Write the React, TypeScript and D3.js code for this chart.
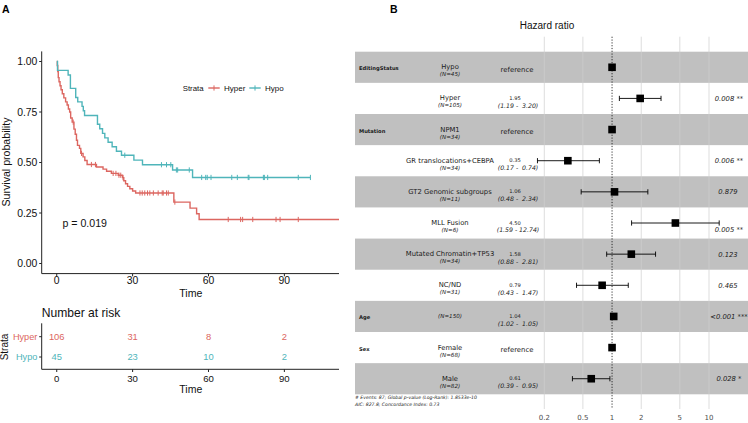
import React from "react";
import * as d3 from "d3";

const W = 748;
const H = 423;

// ---------- Kaplan-Meier data ----------
const hyperEventTimes = [0.2, 0.4, 0.6, 0.9, 1.3, 1.7, 2.2, 2.8, 3.5, 4.1, 4.6, 5.1, 5.5, 6.1, 6.8, 7.3, 7.8, 8.2, 9.0, 9.5, 10.4, 11.1, 12.0, 15.7, 18.3, 19.7, 21.6, 24.3, 26.0, 26.5, 27.2, 28.0, 28.9, 30.0, 31.2, 46.3, 52.7, 55.3, 56.3];
const hyperSurv = [0.98, 0.95, 0.92, 0.9, 0.88, 0.86, 0.84, 0.82, 0.8, 0.785, 0.765, 0.75, 0.72, 0.7, 0.665, 0.64, 0.61, 0.585, 0.57, 0.545, 0.528, 0.51, 0.49, 0.478, 0.467, 0.457, 0.446, 0.437, 0.425, 0.41, 0.395, 0.382, 0.37, 0.359, 0.349, 0.304, 0.274, 0.246, 0.218];
const hyperCensorTimes = [6.5, 9.8, 13.7, 15.3, 22.3, 23.4, 24.6, 25.3, 26.2, 32.9, 33.8, 34.8, 35.9, 36.8, 38.2, 40.1, 41.7, 42.1, 43.4, 44.1, 46.7, 67.8, 72.7, 73.5, 77.5, 86.7, 88.3, 95.5];
const hyperLastTime = 111.6;

const hypoEventTimes = [0.3, 4.5, 5.4, 7.5, 8.3, 10.0, 10.5, 11.0, 16.1, 17.0, 18.1, 19.0, 20.3, 21.9, 23.6, 25.6, 30.5, 33.9, 45.8, 53.7];
const hypoSurv = [0.956, 0.933, 0.867, 0.822, 0.8, 0.778, 0.756, 0.733, 0.689, 0.667, 0.644, 0.622, 0.6, 0.578, 0.556, 0.536, 0.512, 0.489, 0.463, 0.426];
const hypoCensorTimes = [26.9, 41.4, 43.4, 45.1, 47.3, 47.8, 52.4, 57.3, 58.9, 59.5, 61.0, 69.2, 71.4, 75.7, 76.0, 81.7, 82.1, 83.4, 95.5, 100.3];
const hypoLastTime = 100.3;

const strataNames = ["Hyper", "Hypo"];
const strataColors = ["#DC6660", "#4FB5BA"];
const timeTicks = [0, 30, 60, 90];
const survTicks = [0, 0.25, 0.5, 0.75, 1];
const riskHyper = [106, 31, 8, 2];
const riskHypo = [45, 23, 10, 2];
const pValueLabel = "p = 0.019";

// ---------- Forest plot data ----------
const fpVariables = ["EditingStatus", "", "Mutation", "", "", "", "", "", "Age", "Sex", ""];
const fpLevels = ["Hypo", "Hyper", "NPM1", "GR translocations+CEBPA", "GT2 Genomic subgroups", "MLL Fusion", "Mutated Chromatin+TP53", "NC/ND", "", "Female", "Male"];
const fpN = [45, 105, 34, 34, 11, 6, 34, 31, 150, 68, 82];
const fpHR = [1, 1.95, 1, 0.35, 1.06, 4.5, 1.58, 0.79, 1.04, 1, 0.61];
const fpLower = [null, 1.19, null, 0.17, 0.48, 1.59, 0.88, 0.43, 1.02, null, 0.39];
const fpUpper = [null, 3.2, null, 0.74, 2.34, 12.74, 2.81, 1.47, 1.05, null, 0.95];
const fpP = ["", "0.008 **", "", "0.006 **", "0.879 ", "0.005 **", "0.123 ", "0.465 ", "<0.001 ***", "", "0.028 *"];
const hrTicks = [0.2, 0.5, 1, 2, 5, 10];
const footerLines = ["# Events: 87; Global p-value (Log-Rank): 1.8533e-10", "AIC: 827.8; Concordance Index: 0.73"];

const KM_FONT = "'Liberation Sans', Arial, Helvetica, sans-serif";
const FP_FONT = "'DejaVu Sans', Verdana, sans-serif";

function survAt(times: number[], surv: number[], t: number) {
  let s = 1;
  for (let i = 0; i < times.length; i++) if (times[i] <= t) s = surv[i];
  return s;
}

export default function App() {
  // KM scales
  const x = d3.scaleLinear().domain([-5.95, 111.6]).range([41.7, 339]);
  const y = d3.scaleLinear().domain([-0.05, 1.05]).range([273.6, 51.4]);
  const stepLine = d3
    .line<[number, number]>()
    .x((d) => x(d[0]))
    .y((d) => y(d[1]))
    .curve(d3.curveStepAfter);

  const series = [
    { name: strataNames[0], color: strataColors[0], times: hyperEventTimes, surv: hyperSurv, cens: hyperCensorTimes, last: hyperLastTime },
    { name: strataNames[1], color: strataColors[1], times: hypoEventTimes, surv: hypoSurv, cens: hypoCensorTimes, last: hypoLastTime },
  ];

  const riskY = d3.scalePoint<string>().domain(strataNames).range([336.7, 357]);
  const riskRows = [riskHyper, riskHypo];

  // Forest scales
  const hx = d3.scaleLog().domain([0.2, 10]).range([544.3, 709]);
  const rows = d3.scaleBand<number>().domain(d3.range(fpLevels.length)).range([51.7, 394.3]);
  const bw = rows.bandwidth();
  const fmt = (v: number) => v.toFixed(2);
  const upWidth = d3.max(fpUpper.filter((v) => v != null).map((v) => fmt(v as number).length)) as number;

  return (
    <svg width={W} height={H} style={{ position: "absolute", left: 0, top: 0, background: "#fff" }}>
      {/* Panel labels */}
      <text x={2} y={12.5} fontFamily={KM_FONT} fontWeight="bold" fontSize={10.5}>A</text>
      <text x={390} y={12.5} fontFamily={KM_FONT} fontWeight="bold" fontSize={10.5}>B</text>

      {/* ---------------- KM plot ---------------- */}
      <g fontFamily={KM_FONT}>
        <line x1={41.7} x2={41.7} y1={y(1.05)} y2={y(-0.05)} stroke="#222" strokeWidth={1} />
        <line x1={41.7} x2={339} y1={273.6} y2={273.6} stroke="#222" strokeWidth={1} />
        {survTicks.map((t) => (
          <g key={"ys" + t}>
            <line x1={39.2} x2={41.7} y1={y(t)} y2={y(t)} stroke="#222" />
            <text x={37.4} y={y(t) + 3.8} textAnchor="end" fontSize={10.4} fill="#111">{t.toFixed(2)}</text>
          </g>
        ))}
        {timeTicks.map((t) => (
          <g key={"xt" + t}>
            <line x1={x(t)} x2={x(t)} y1={273.6} y2={276.3} stroke="#222" />
            <text x={x(t)} y={283.8} textAnchor="middle" fontSize={10.4} fill="#111">{t}</text>
          </g>
        ))}
        <text x={x(53)} y={296.5} textAnchor="middle" fontSize={10.6} fill="#111">Time</text>
        <text transform="translate(9.5,162) rotate(-90)" textAnchor="middle" fontSize={10.6} fill="#111">Survival probability</text>

        {series.map((s) => {
          const pts: [number, number][] = [[0, 1]];
          s.times.forEach((t, i) => pts.push([t, s.surv[i]]));
          pts.push([s.last, s.surv[s.surv.length - 1]]);
          return (
            <g key={s.name}>
              <path d={stepLine(pts) as string} fill="none" stroke={s.color} strokeWidth={1.4} />
              {s.cens.map((c, i) => {
                const cy = y(survAt(s.times, s.surv, c));
                return <line key={i} x1={x(c)} x2={x(c)} y1={cy - 2.6} y2={cy + 2.6} stroke={s.color} strokeWidth={1} />;
              })}
            </g>
          );
        })}

        {/* legend */}
        <text x={182.7} y={90.8} fontSize={7.8} fill="#111">Strata</text>
        {series.map((s, i) => {
          const lx = i === 0 ? 208.3 : 249.3;
          return (
            <g key={"lg" + i}>
              <line x1={lx} x2={lx + 11.4} y1={88} y2={88} stroke={s.color} strokeWidth={1.4} />
              <line x1={lx + 5.7} x2={lx + 5.7} y1={85.4} y2={90.6} stroke={s.color} strokeWidth={1} />
              <text x={lx + 15.7} y={90.8} fontSize={8} fill="#111">{s.name}</text>
            </g>
          );
        })}

        <text x={62.5} y={227} fontSize={10.6} fill="#111">{pValueLabel}</text>

        {/* risk table */}
        <text x={41.7} y={317} fontSize={12.1} fill="#111">Number at risk</text>
        <line x1={41.7} x2={41.7} y1={323.3} y2={369.3} stroke="#222" />
        <line x1={41.7} x2={339} y1={369.3} y2={369.3} stroke="#222" />
        {strataNames.map((n, i) => (
          <g key={"rr" + n}>
            <line x1={39.2} x2={41.7} y1={riskY(n)} y2={riskY(n)} stroke="#222" />
            <text x={37.4} y={(riskY(n) as number) + 3.3} textAnchor="end" fontSize={9.2} fill={strataColors[i]}>{n}</text>
            {riskRows[i].map((v, j) => (
              <text key={j} x={x(timeTicks[j])} y={(riskY(n) as number) + 3.3} textAnchor="middle" fontSize={9.4} fill={strataColors[i]}>{v}</text>
            ))}
          </g>
        ))}
        {timeTicks.map((t) => (
          <g key={"rt" + t}>
            <line x1={x(t)} x2={x(t)} y1={369.3} y2={372} stroke="#222" />
            <text x={x(t)} y={381.6} textAnchor="middle" fontSize={9.6} fill="#111">{t}</text>
          </g>
        ))}
        <text x={x(53)} y={393} textAnchor="middle" fontSize={10.5} fill="#111">Time</text>
        <text transform="translate(8.3,347) rotate(-90)" textAnchor="middle" fontSize={10} fill="#111">Strata</text>
      </g>

      {/* ---------------- Forest plot ---------------- */}
      <g fontFamily={FP_FONT}>
        <text x={547} y={29} textAnchor="middle" fontFamily={KM_FONT} fontSize={10} fill="#111">Hazard ratio</text>
        {fpLevels.map((_, i) =>
          i % 2 === 0 ? <rect key={"band" + i} x={355} y={rows(i)} width={393} height={bw} fill="#C0C0C0" /> : null
        )}
        {hrTicks.filter((t) => t !== 1).map((t) => (
          <line key={"g" + t} x1={hx(t)} x2={hx(t)} y1={36.7} y2={409} stroke="#cfcfcf" strokeOpacity={0.7} strokeWidth={1} />
        ))}
        <line x1={hx(1)} x2={hx(1)} y1={36.7} y2={409} stroke="#000" strokeWidth={0.8} strokeDasharray="1.2,1.6" />
        {hrTicks.map((t) => (
          <text key={"ht" + t} x={hx(t)} y={419.5} textAnchor="middle" fontSize={7} fill="#4d4d4d">{t}</text>
        ))}

        {fpLevels.map((lev, i) => {
          const c = (rows(i) as number) + bw / 2;
          const lo = fpLower[i];
          const hi = fpUpper[i];
          const isRef = lo == null;
          const ci = isRef ? "" : `(${fmt(lo as number)} - ${fmt(hi as number).padStart(upWidth, " ")})`;
          const pShift = !isRef && hx(hi as number) > 705 ? 6.5 : 0;
          return (
            <g key={"r" + i} fill="#1a1a1a">
              {fpVariables[i] && <text x={359} y={c + 3} fontSize={5.2} fontWeight="bold">{fpVariables[i]}</text>}
              {lev && <text x={450} y={c + 2} textAnchor="middle" fontSize={6.8}>{lev}</text>}
              <text x={450} y={lev ? c + 9 : c + 2} textAnchor="middle" fontSize={5.6} fontStyle="italic">{`(N=${fpN[i]})`}</text>
              {isRef ? (
                <text x={517} y={c + 4.4} textAnchor="middle" fontSize={6.9}>reference</text>
              ) : (
                <>
                  <text x={515} y={c + 1.5} textAnchor="middle" fontSize={5.2}>{fmt(fpHR[i])}</text>
                  <text x={518} y={c + 9.4} textAnchor="middle" fontSize={6.2} fontStyle="italic" style={{ whiteSpace: "pre" }}>{ci}</text>
                </>
              )}
              {!isRef && (
                <g stroke="#000" strokeWidth={0.9}>
                  <line x1={hx(lo as number)} x2={hx(hi as number)} y1={c} y2={c} />
                  <line x1={hx(lo as number)} x2={hx(lo as number)} y1={c - 2.6} y2={c + 2.6} />
                  <line x1={hx(hi as number)} x2={hx(hi as number)} y1={c - 2.6} y2={c + 2.6} />
                </g>
              )}
              <rect x={hx(fpHR[i]) - 3.8} y={c - 3.8} width={7.6} height={7.6} fill="#000" />
              {fpP[i] && (
                <text x={729} y={c + 2.6 + pShift} textAnchor="middle" fontSize={6.8} fontStyle="italic" style={{ whiteSpace: "pre" }}>{fpP[i]}</text>
              )}
            </g>
          );
        })}
        {footerLines.map((l, i) => (
          <text key={"f" + i} x={355} y={398.5 + i * 7} fontSize={4.6} fontStyle="italic" fill="#222">{l}</text>
        ))}
      </g>
    </svg>
  );
}
